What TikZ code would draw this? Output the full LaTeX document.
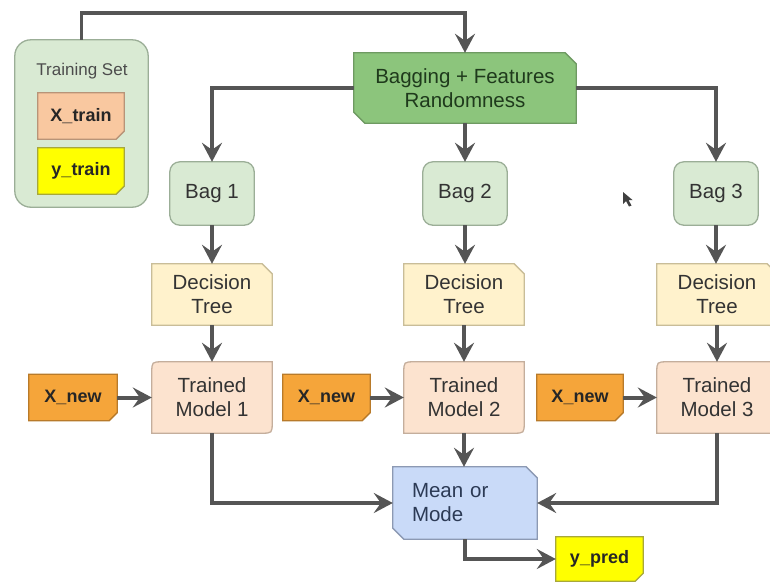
\documentclass[tikz,border=0pt]{standalone}
\usepackage{fontspec}
\setmainfont{Liberation Sans}
\usetikzlibrary{arrows.meta,backgrounds,calc}
\definecolor{lgreen}{HTML}{D9EAD3}
\definecolor{lgreenD}{HTML}{9BAE97}
\definecolor{green}{HTML}{8CC57C}
\definecolor{greenD}{HTML}{6E9A62}
\definecolor{peach}{HTML}{F9C8A0}
\definecolor{peachD}{HTML}{B89478}
\definecolor{yel}{HTML}{FFFF00}
\definecolor{yelD}{HTML}{A8A83A}
\definecolor{ltyel}{HTML}{FFF2CC}
\definecolor{ltyelD}{HTML}{C9BD98}
\definecolor{ltorg}{HTML}{FCE3CF}
\definecolor{ltorgD}{HTML}{C4AE9C}
\definecolor{org}{HTML}{F5A53A}
\definecolor{orgD}{HTML}{B87A2A}
\definecolor{blu}{HTML}{C9DAF8}
\definecolor{bluD}{HTML}{8C99B3}
\definecolor{arr}{HTML}{555555}
\definecolor{txt}{HTML}{333333}
\definecolor{txtG}{HTML}{1F3A1C}
\definecolor{txtB}{HTML}{2C3A55}
\newcommand\cutBR[3]{\filldraw[#2] (#1.north west) -- (#1.north east) -- ([yshift=#3]#1.south east) -- ([xshift=-#3]#1.south east) -- (#1.south west) -- cycle;}
\newcommand\cutTR[3]{\filldraw[#2] (#1.north west) -- ([xshift=-#3]#1.north east) -- ([yshift=-#3]#1.north east) -- (#1.south east) -- (#1.south west) -- cycle;}
\newcommand\cutTRBL[3]{\filldraw[#2] (#1.north west) -- ([xshift=-#3]#1.north east) -- ([yshift=-#3]#1.north east) -- (#1.south east) -- ([xshift=#3]#1.south west) -- ([yshift=#3]#1.south west) -- cycle;}
\newcommand\rndTLBR[3]{\filldraw[#2] ([xshift=#3]#1.north west) -- (#1.north east) -- ([yshift=#3]#1.south east) .. controls (#1.south east) .. ([xshift=-#3]#1.south east) -- (#1.south west) -- ([yshift=-#3]#1.north west) .. controls (#1.north west) .. ([xshift=#3]#1.north west) -- cycle;}
\begin{document}
\begin{tikzpicture}[x=1pt,y=-1pt,
  box/.style={inner sep=0pt, align=center, text=txt, font=\fontsize{20.5}{24}\selectfont},
  tag/.style={inner sep=0pt, align=center, text=black!85, font=\fontsize{18}{21}\selectfont\bfseries},
  shp/.style={line width=1.3pt},
  conn/.style={draw=arr, line width=4pt, -{Stealth[length=19pt,width=20pt,inset=7pt]}}]
\useasboundingbox (0,0) rectangle (770,581);

% nodes
\node[box, minimum width=133, minimum height=167] (ts) at (81.5,123.5) {};
\node[box, font=\fontsize{17}{20}\selectfont, text=black!70] (tslabel) at (82,71) {Training Set};
\node[tag, minimum width=86, minimum height=46] (xtrain) at (81,116) {X\_train};
\node[tag, minimum width=86, minimum height=46] (ytrain) at (81,171) {y\_train};
\node[box, text=txtG, minimum width=222, minimum height=70] (bagging) at (465,88) {Bagging + Features\\Randomness};

\foreach \i/\x in {1/212,2/465,3/716}{
  \node[box, minimum width=84, minimum height=63] (bag\i) at (\x,193.5) {Bag \i};
}
\foreach \i/\x in {1/212,2/464,3/717}{
  \node[box, minimum width=120, minimum height=61] (dt\i) at (\x,294.5) {Decision\\Tree};
  \node[box, minimum width=120, minimum height=71] (tm\i) at (\x,397.5) {Trained\\Model \i};
}
\node[tag, minimum width=88, minimum height=46] (xn1) at (73,397.5) {X\_new};
\node[tag, minimum width=87, minimum height=46] (xn2) at (326.5,397.5) {X\_new};
\node[tag, minimum width=86, minimum height=46] (xn3) at (580,397.5) {X\_new};
\node[box, text=txtB, align=left, text width=106pt, minimum width=144, minimum height=72] (mean) at (465,503) {Mean or\\Mode};
\node[tag, minimum width=87, minimum height=44] (ypred) at (599.5,559) {y\_pred};

% shapes
\begin{scope}[on background layer]
  \fill[white] (0,0) rectangle (770,581);
  \filldraw[shp, fill=lgreen, draw=lgreenD, rounded corners=16pt] (ts.north west) rectangle (ts.south east);
  \cutBR{xtrain}{shp, fill=peach, draw=peachD}{8pt}
  \cutBR{ytrain}{shp, fill=yel, draw=yelD}{8pt}
  \cutTRBL{bagging}{shp, fill=green, draw=greenD}{11pt}
  \foreach \i in {1,2,3}{
    \filldraw[shp, fill=lgreen, draw=lgreenD, rounded corners=10pt] (bag\i.north west) rectangle (bag\i.south east);
    \cutTR{dt\i}{shp, fill=ltyel, draw=ltyelD}{10pt}
    \rndTLBR{tm\i}{shp, fill=ltorg, draw=ltorgD}{11pt}
    \cutBR{xn\i}{shp, fill=org, draw=orgD}{8pt}
  }
  \cutTRBL{mean}{shp, fill=blu, draw=bluD}{11pt}
  \cutBR{ypred}{shp, fill=yel, draw=yelD}{8pt}
\end{scope}

% connectors
\draw[conn, line width=3.5pt] (ts.north) -- ++(0,-27) -| (bagging.north);
\draw[conn] (bagging.west) -| (bag1.north);
\draw[conn] (bagging.east) -| (bag3.north);
\draw[conn] (bagging.south) -- (bag2.north);
\foreach \i in {1,2,3}{
  \draw[conn] (bag\i.south) -- (bag\i.south |- dt\i.north);
  \draw[conn] (dt\i.south) -- (tm\i.north);
  \draw[conn] (xn\i.east) -- (tm\i.west);
}
\draw[conn] (tm1.south) |- (mean.west);
\draw[conn] (tm3.south) |- (mean.east);
\draw[conn] (tm2.south) -- (tm2.south |- mean.north);
\draw[conn] (mean.south) |- (ypred.west);

% mouse cursor
\fill[black!75] (623,192) -- (623,204) -- (626,201) -- (629,206.5) -- (631.5,205.5) -- (628.5,200) -- (632.5,200) -- cycle;
\end{tikzpicture}
\end{document}
